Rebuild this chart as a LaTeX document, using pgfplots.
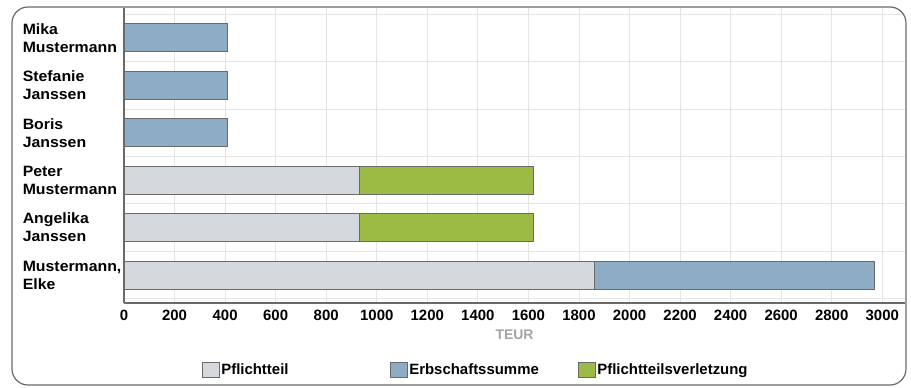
\documentclass[border=0pt]{standalone}
\usepackage{fontspec}
\setmainfont{Liberation Sans}
\newfontfamily\widefont{Liberation Sans}[FakeStretch=1.06]
\usepackage{pgfplots}
\pgfplotsset{compat=1.18}
\definecolor{pgrey}{HTML}{D5D9DE}
\definecolor{pblue}{HTML}{8EADC4}
\definecolor{pgreen}{HTML}{9CBB44}
\definecolor{edge}{HTML}{6A6A6A}
\definecolor{gridc}{HTML}{E4E4E4}
\definecolor{labgray}{HTML}{A3A3A3}
\newcommand{\lf}{\bfseries\fontsize{15}{18}\selectfont}
\newcommand{\wf}{\widefont\bfseries\fontsize{15}{18}\selectfont}
\begin{document}
\begin{tikzpicture}[x=1bp,y=1bp]
\useasboundingbox (0,0) rectangle (911,387);
\begin{axis}[
  at={(124bp,84bp)}, anchor=south west,
  scale only axis, width=781bp, height=295bp,
  xbar stacked, bar width=28bp,
  xmin=0, xmax=3090, ymin=-0.59, ymax=5.63,
  xtick={0,200,...,3000}, ytick={0,1,2,3,4,5},
  minor ytick={-0.5,0.5,1.5,2.5,3.5,4.5,5.5},
  yticklabels={{Mustermann,\\Elke},{Angelika\\Janssen},{Peter\\Mustermann},{Boris\\Janssen},{Stefanie\\Janssen},{Mika\\Mustermann}},
  /pgf/number format/assume math mode=true,
  /pgf/number format/1000 sep={},
  major tick length=0pt, minor tick length=0pt,
  xmajorgrids, yminorgrids,
  major grid style={gridc, line width=0.8bp},
  minor grid style={gridc, line width=0.8bp},
  axis x line*=bottom, axis y line*=left,
  axis line style={-, edge, line width=1.2bp},
  xticklabel style={font=\lf, anchor=north, yshift=-4bp},
  yticklabel style={font=\wf, align=left, text width=98bp, inner sep=0pt, anchor=east, xshift=-3bp},
  xlabel={TEUR},
  xlabel style={at={(axis description cs:0.5,0)}, anchor=center, yshift=-32bp, font=\bfseries\fontsize{14}{16}\selectfont, text=labgray},
  legend columns=3,
  legend style={at={(axis description cs:0.1,-0.227)}, anchor=west, draw=none, fill=none, inner sep=0pt, column sep=0pt, font=\lf, nodes={inner sep=1bp}},
  legend image code/.code={\draw[#1] (0bp,-7.5bp) rectangle (17bp,7.5bp);},
  every axis plot/.append style={draw=edge, line width=1bp},
]
\addplot[fill=pgrey, draw=edge] coordinates {(1860,0) (930,1) (930,2) (0,3) (0,4) (0,5)};
\addlegendentry{\makebox[168bp][l]{Pflichtteil}}
\addplot[fill=pblue, draw=edge] coordinates {(1110,0) (0,1) (0,2) (410,3) (410,4) (410,5)};
\addlegendentry{\makebox[168bp][l]{Erbschaftssumme}}
\addplot[fill=pgreen, draw=edge] coordinates {(0,0) (690,1) (690,2) (0,3) (0,4) (0,5)};
\addlegendentry{\makebox[168bp][l]{Pflichtteilsverletzung}}
\end{axis}
\draw[edge, line width=1.2bp, rounded corners=16bp] (12,2) rectangle (906,380);
\end{tikzpicture}
\end{document}
